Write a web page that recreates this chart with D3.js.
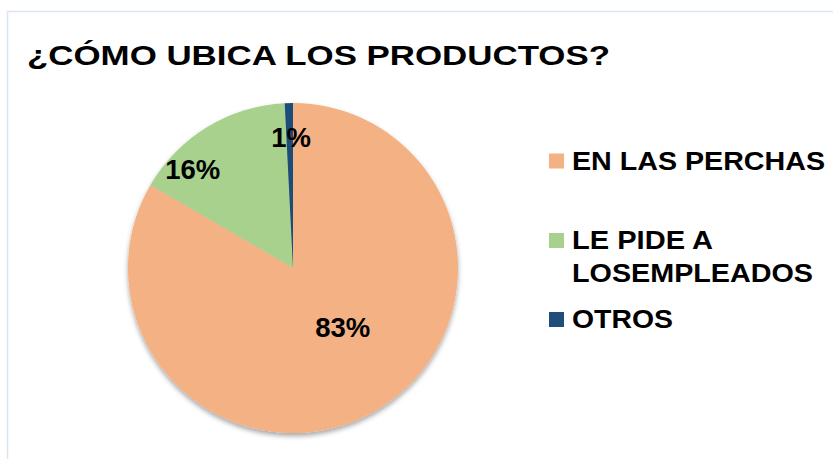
<!DOCTYPE html>
<html><head><meta charset="utf-8">
<script src="https://cdn.jsdelivr.net/npm/d3@7"></script>
<style>body{margin:0;background:#fff}svg{display:block}text{font-family:"Liberation Sans",Arial,sans-serif;font-weight:bold;fill:#000}</style>
</head><body>
<script>
const title = "¿CÓMO UBICA LOS PRODUCTOS?";
const categories = ["EN LAS PERCHAS", "LE PIDE A LOSEMPLEADOS", "OTROS"];
const legendLines = [["EN LAS PERCHAS"], ["LE PIDE A", "LOSEMPLEADOS"], ["OTROS"]];
const values = [83.4, 15.8, 0.8];
const valueLabels = ["83%", "16%", "1%"];
const colors = ["#F4B183", "#A9D18E", "#1F4E79"];

const W = 833, H = 459;
const svg = d3.select("body").append("svg").attr("width", W).attr("height", H);
const defs = svg.append("defs");
const f = defs.append("filter").attr("id","sh").attr("x","-20%").attr("y","-20%").attr("width","140%").attr("height","140%");
f.append("feDropShadow").attr("dx",0).attr("dy",3).attr("stdDeviation",2.5).attr("flood-color","#000").attr("flood-opacity",0.35);

// border
svg.append("rect").attr("x",7.5).attr("y",11.5).attr("width",W+20).attr("height",H+20)
  .attr("fill","none").attr("stroke","#DCE6F2").attr("stroke-width",1.5);

svg.append("text").attr("x",27).attr("y",65).attr("font-size",28.5)
  .attr("textLength",583).attr("lengthAdjust","spacingAndGlyphs").text(title);

const cx = 293, cy = 268, R = 165;
const pie = d3.pie().sort(null).value(d => d);
const arcs = pie(values);
const arc = d3.arc().innerRadius(0).outerRadius(R);
const g = svg.append("g").attr("transform", `translate(${cx},${cy})`);
g.append("g").attr("filter","url(#sh)").selectAll("path").data(arcs).join("path")
  .attr("d", arc).attr("fill", (d,i) => colors[i]);

// label placement (polar: degrees clockwise from top, radius)
const labelPolar = [[139.7, 77], [314.7, 141], [359.2, 131]];
g.selectAll("text.lbl").data(arcs).join("text").attr("class","lbl")
  .attr("x", (d,i) => labelPolar[i][1] * Math.sin(labelPolar[i][0]*Math.PI/180))
  .attr("y", (d,i) => -labelPolar[i][1] * Math.cos(labelPolar[i][0]*Math.PI/180))
  .attr("dy","0.36em").attr("text-anchor","middle").attr("font-size",27.5)
  .text((d,i) => valueLabels[i]);

// legend
const legY = [169.5, 249, 328];
const legWidths = [[253],[141,241],[101]];
const lg = svg.append("g");
categories.forEach((c,i) => {
  lg.append("rect").attr("x",549).attr("y",legY[i]-16).attr("width",15).attr("height",15).attr("fill",colors[i]);
  legendLines[i].forEach((t,j) => {
    lg.append("text").attr("x",572).attr("y",legY[i]+j*32.5).attr("font-size",25)
      .attr("textLength",legWidths[i][j]).attr("lengthAdjust","spacingAndGlyphs").text(t);
  });
});
</script>
</body></html>
